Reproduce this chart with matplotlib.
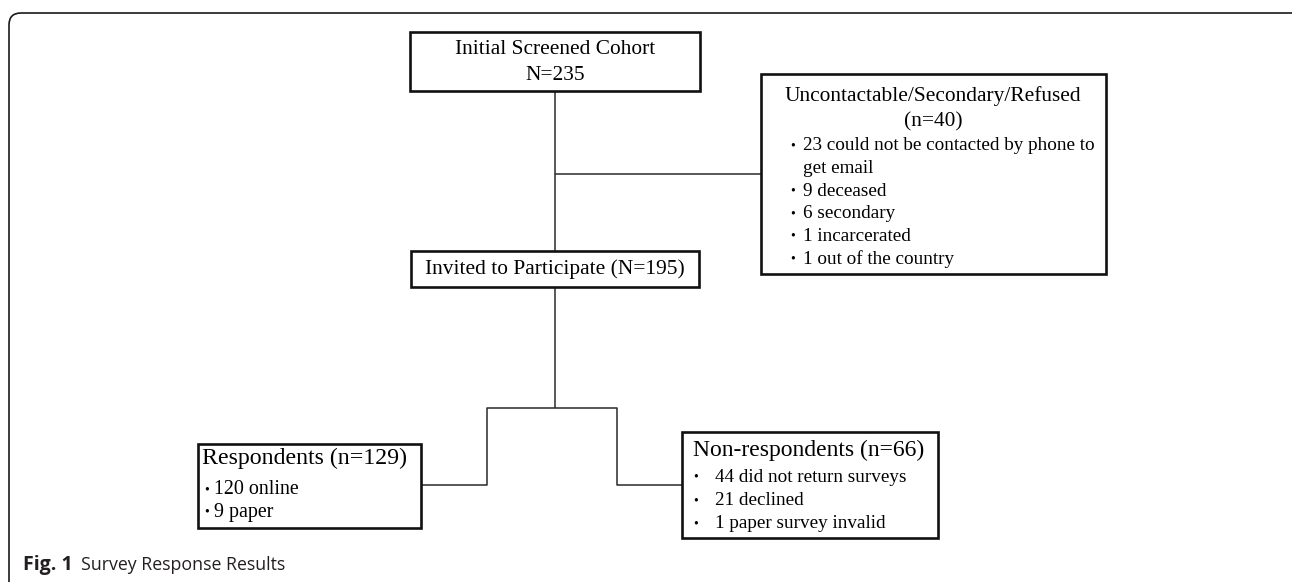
import matplotlib
matplotlib.use('Agg')
from matplotlib import pyplot as plt
from matplotlib.patches import FancyBboxPatch, Rectangle

# box texts
screened_title = ['Initial Screened Cohort', 'N=235']
invited_title = 'Invited to Participate (N=195)'
excluded_title = ['Uncontactable/Secondary/Refused', '(n=40)']
excluded_items = ['23 could not be contacted by phone to', 'get email',
                  '9 deceased', '6 secondary', '1 incarcerated', '1 out of the country']
excluded_bullet = [True, False, True, True, True, True]
resp_title = 'Respondents (n=129)'
resp_items = ['120 online', '9 paper']
nonresp_title = 'Non-respondents (n=66)'
nonresp_items = ['44 did not return surveys', '21 declined', '1 paper survey invalid']
caption_bold = 'Fig. 1'
caption_text = 'Survey Response Results'

W, H = 1292, 582
fig = plt.figure(figsize=(W / 100, H / 100), dpi=100)
ax = fig.add_axes([0, 0, 1, 1])
ax.set_xlim(0, W)
ax.set_ylim(H, 0)
ax.axis('off')

serif = 'Liberation Serif'
box_lw = 1.9
line_lw = 1.1
line_c = '#2a2a2a'

# outer rounded frame
frame = FancyBboxPatch((9, 13), 1300, 620, boxstyle='round,pad=0,rounding_size=12',
                       fill=False, ec='#1a1a1a', lw=1.2)
ax.add_patch(frame)


def box(x0, y0, x1, y1):
    ax.add_patch(Rectangle((x0, y0), x1 - x0, y1 - y0, fill=True, fc='white',
                           ec='#111111', lw=box_lw, zorder=3))


def connector(xs, ys):
    ax.plot(xs, ys, color=line_c, lw=line_lw, solid_capstyle='butt', zorder=2)


# connectors
connector([555, 555], [91, 251])
connector([555, 761], [174, 174])
connector([555, 555], [287, 408])
connector([421, 487, 487, 617, 617, 682], [485, 485, 408, 408, 485, 485])

# boxes
box(410, 32, 700, 91)
ax.text(555, 50, screened_title[0], ha='center', va='center', family=serif, fontsize=15.4, zorder=4)
ax.text(555, 76, screened_title[1], ha='center', va='center', family=serif, fontsize=15.4, zorder=4)

box(411, 251, 699, 287)
ax.text(555, 269, invited_title, ha='center', va='center', family=serif, fontsize=15.4, zorder=4)

box(761, 74, 1106, 274)
ax.text(933, 96, excluded_title[0], ha='center', va='center', family=serif, fontsize=15.4, zorder=4)
ax.text(933, 122, excluded_title[1], ha='center', va='center', family=serif, fontsize=15.4, zorder=4)
for i, (item, bul) in enumerate(zip(excluded_items, excluded_bullet)):
    y = 146 + i * 22.6
    if bul:
        ax.text(790, y, '\u2022', ha='left', va='center', family=serif, fontsize=10, zorder=4)
    ax.text(803, y, item, ha='left', va='center', family=serif, fontsize=13.8, zorder=4)

box(198, 444, 421, 528)
ax.text(202, 458, resp_title, ha='left', va='center', family=serif, fontsize=17.2, zorder=4)
for i, item in enumerate(resp_items):
    y = 490 + i * 22
    ax.text(204, y, '\u2022', ha='left', va='center', family=serif, fontsize=10, zorder=4)
    ax.text(214, y, item, ha='left', va='center', family=serif, fontsize=14.4, zorder=4)

box(682, 432, 938, 538)
ax.text(693, 450, nonresp_title, ha='left', va='center', family=serif, fontsize=17.0, zorder=4)
for i, item in enumerate(nonresp_items):
    y = 477 + i * 23.5
    ax.text(693, y, '\u2022', ha='left', va='center', family=serif, fontsize=10, zorder=4)
    ax.text(715, y, item, ha='left', va='center', family=serif, fontsize=13.8, zorder=4)

# caption
ax.text(23, 565, caption_bold, ha='left', va='center', family='Open Sans',
        fontweight='bold', fontsize=14, color='#231f20')
ax.text(81, 565, caption_text, ha='left', va='center', family='Open Sans',
        fontsize=12.8, color='#231f20')

fig.savefig('out.png', dpi=100)
